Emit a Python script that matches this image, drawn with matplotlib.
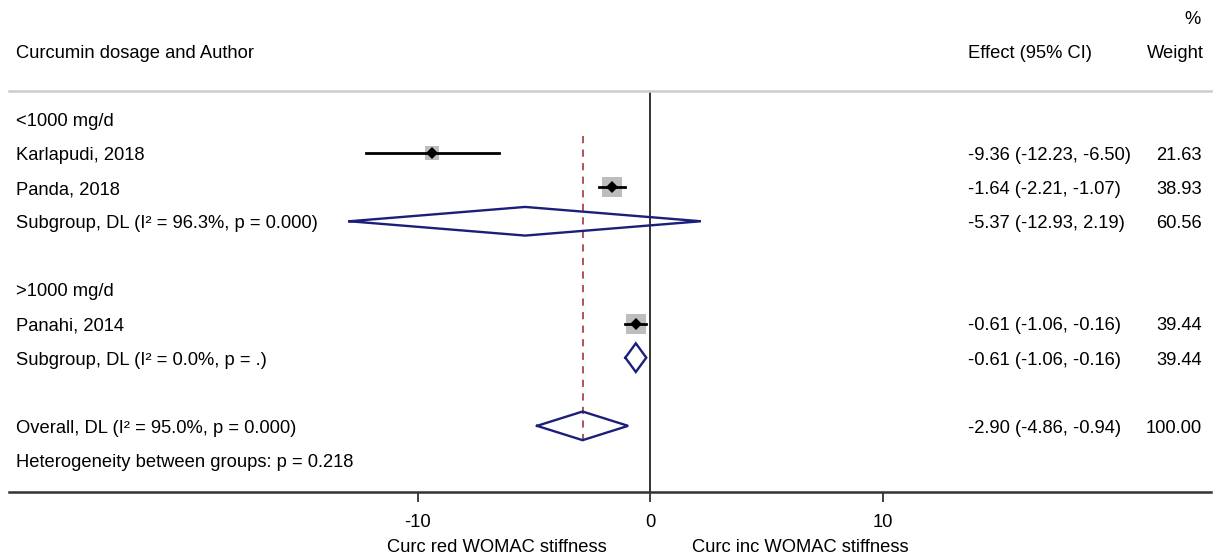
import numpy as np
import matplotlib
matplotlib.use('Agg')
from matplotlib import pyplot as plt
from matplotlib import transforms

plt.rcParams['font.family'] = ['Liberation Sans', 'DejaVu Sans']

# data
groups = ['<1000 mg/d', '>1000 mg/d']
studies = ['Karlapudi, 2018', 'Panda, 2018', 'Panahi, 2014']
study_group = [0, 0, 1]
es = [-9.36, -1.64, -0.61]
lo = [-12.23, -2.21, -1.06]
hi = [-6.50, -1.07, -0.16]
wt = [21.63, 38.93, 39.44]

sub_labels = ['Subgroup, DL (I\u00b2 = 96.3%, p = 0.000)', 'Subgroup, DL (I\u00b2 = 0.0%, p = .)']
sub_es = [-5.37, -0.61]
sub_lo = [-12.93, -1.06]
sub_hi = [2.19, -0.16]
sub_wt = [60.56, 39.44]

overall_label = 'Overall, DL (I\u00b2 = 95.0%, p = 0.000)'
overall_es, overall_lo, overall_hi, overall_wt = -2.90, -4.86, -0.94, 100.00
het_label = 'Heterogeneity between groups: p = 0.218'

xticks = [-10, 0, 10]
left_label = 'Curc red WOMAC stiffness'
right_label = 'Curc inc WOMAC stiffness'

W, H = 1213, 557
fs = 13.2
navy = '#1b1f7a'
toff = 0.07  # small downward nudge for text rows

fig = plt.figure(figsize=(W / 100, H / 100), dpi=100)
# axis: x0 at px 650, 23.25 px per unit
ax = fig.add_axes([9 / W, 65 / H, 1202 / W, 401 / H])
ax.set_xlim((9 - 650) / 23.25, (1211 - 650) / 23.25)
ax.set_ylim(11.94, 0.18)

tr = transforms.blended_transform_factory(fig.transFigure, ax.transData)

def lefttext(r, s):
    ax.text(16 / W, r + toff, s, transform=tr, ha='left', va='center', fontsize=fs, clip_on=False)

def righttext(r, eff, l, h, w):
    ax.text(968 / W, r + toff, f'{eff:.2f} ({l:.2f}, {h:.2f})', transform=tr, ha='left', va='center',
            fontsize=fs, clip_on=False)
    ax.text(1202 / W, r + toff, f'{w:.2f}', transform=tr, ha='right', va='center', fontsize=fs, clip_on=False)

def diamond(r, eff, l, h):
    half = 0.42
    ax.plot([l, eff, h, eff, l], [r, r - half, r, r + half, r], color=navy, lw=1.7,
            solid_joinstyle='miter', zorder=4)

# header
lefttext(-1, 'Curcumin dosage and Author')
ax.text(968 / W, -1 + toff, 'Effect (95% CI)', transform=tr, ha='left', va='center', fontsize=fs, clip_on=False)
ax.text(1204 / W, -1 + toff, 'Weight', transform=tr, ha='right', va='center', fontsize=fs, clip_on=False)
ax.text(1201 / W, -2 + toff, '%', transform=tr, ha='right', va='center', fontsize=fs, clip_on=False)

row = 1
first_row = None
for g, gname in enumerate(groups):
    lefttext(row, gname)
    row += 1
    for i in range(len(studies)):
        if study_group[i] != g:
            continue
        if first_row is None:
            first_row = row
        lefttext(row, studies[i])
        ax.plot(es[i], row, marker='s', ms=2.2 * np.sqrt(wt[i]), color='#bdbdbd', mew=0, zorder=2)
        ax.plot([lo[i], hi[i]], [row, row], color='black', lw=2.0, zorder=3)
        ax.plot(es[i], row, marker='D', ms=6.3, color='black', mew=0, zorder=4)
        righttext(row, es[i], lo[i], hi[i], wt[i])
        row += 1
    lefttext(row, sub_labels[g])
    diamond(row, sub_es[g], sub_lo[g], sub_hi[g])
    righttext(row, sub_es[g], sub_lo[g], sub_hi[g], sub_wt[g])
    row += 2

lefttext(row, overall_label)
diamond(row, overall_es, overall_lo, overall_hi)
righttext(row, overall_es, overall_lo, overall_hi, overall_wt)
ax.plot([overall_es, overall_es], [first_row - 0.5, row + 0.5], color='#a8474d', lw=1.3,
        dashes=(4, 3.5), zorder=1)
lefttext(row + 1, het_label)

ax.axvline(0, color='#333333', lw=1.4, zorder=1)

for s in ['left', 'right']:
    ax.spines[s].set_visible(False)
ax.spines['top'].set_color('#cccccc')
ax.spines['top'].set_linewidth(1.8)
ax.spines['bottom'].set_color('#333333')
ax.spines['bottom'].set_linewidth(1.8)
ax.set_yticks([])
ax.set_xticks(xticks)
ax.set_xticklabels([str(t) for t in xticks])
ax.tick_params(axis='x', length=7.5, width=1.3, color='#333333', labelsize=fs, pad=8)

tb = transforms.blended_transform_factory(ax.transData, fig.transFigure)
ax.text(-6.58, 1 - 548 / H, left_label, transform=tb, ha='center', va='center', fontsize=fs, clip_on=False)
ax.text(6.45, 1 - 548 / H, right_label, transform=tb, ha='center', va='center', fontsize=fs, clip_on=False)

plt.savefig('out.png', dpi=100)
